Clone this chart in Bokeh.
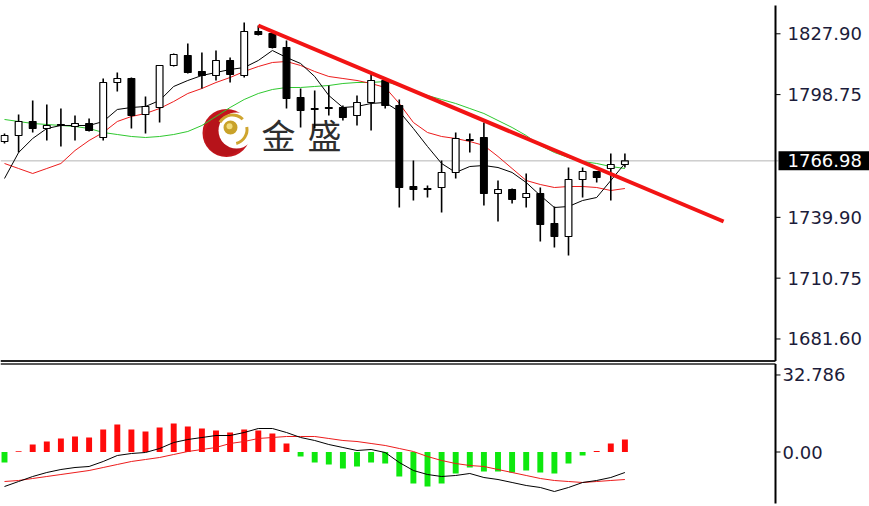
import numpy as np
from bokeh.plotting import figure
from bokeh.layouts import column
from bokeh.models import Range1d, ColumnDataSource
from bokeh.core.properties import value
from bokeh.embed import file_html
from bokeh.resources import INLINE

# ---- price candles (one per bar, oldest first) ----
opens = [1776.27, 1779.14, 1785.86, 1782.50, 1784.42, 1783.46, 1784.90, 1778.19, 1804.55, 1806.47,
         1789.21, 1792.57, 1812.70, 1817.50, 1809.83, 1807.91, 1815.10, 1807.91, 1829.00, 1828.04,
         1821.33, 1797.36, 1792.09, 1792.57, 1792.57, 1788.73, 1794.97, 1805.51, 1793.53, 1754.69,
         1753.73, 1754.21, 1761.41, 1777.23, 1778.19, 1751.34, 1753.25, 1749.42, 1751.34, 1736.95,
         1730.72, 1758.05, 1761.88, 1763.32, 1765.24]
highs = [1780.10, 1789.21, 1795.92, 1794.01, 1792.09, 1788.73, 1787.29, 1806.47, 1809.35, 1806.95,
         1797.84, 1812.70, 1818.46, 1823.25, 1818.94, 1819.89, 1816.54, 1833.32, 1831.88, 1828.52,
         1824.69, 1801.68, 1800.72, 1803.11, 1793.53, 1798.32, 1808.39, 1806.95, 1796.40, 1767.16,
         1755.17, 1767.16, 1780.58, 1780.10, 1785.38, 1757.57, 1753.73, 1760.93, 1754.21, 1745.10,
         1763.80, 1763.80, 1761.88, 1770.51, 1770.51]
lows = [1775.31, 1770.99, 1780.58, 1776.75, 1773.87, 1776.75, 1781.06, 1776.75, 1800.24, 1782.50,
        1780.10, 1785.38, 1812.22, 1808.87, 1801.68, 1805.51, 1804.55, 1806.95, 1827.08, 1820.85,
        1792.09, 1782.98, 1782.50, 1788.73, 1786.33, 1783.94, 1781.54, 1792.09, 1744.62, 1747.98,
        1749.42, 1742.22, 1758.53, 1770.99, 1745.58, 1737.91, 1746.54, 1744.62, 1728.32, 1725.44,
        1721.61, 1749.42, 1756.61, 1747.98, 1763.80]
closes = [1779.14, 1785.86, 1782.50, 1783.94, 1783.94, 1784.90, 1781.54, 1804.55, 1806.47, 1788.73,
          1793.05, 1812.70, 1817.98, 1809.35, 1807.91, 1815.10, 1808.39, 1829.00, 1827.56, 1821.33,
          1796.88, 1791.13, 1791.61, 1792.09, 1787.77, 1794.97, 1805.51, 1793.53, 1754.21, 1753.25,
          1753.25, 1761.41, 1777.71, 1776.75, 1751.34, 1753.25, 1748.46, 1751.34, 1736.47, 1730.72,
          1758.05, 1761.88, 1759.01, 1765.24, 1766.98]

# ---- moving averages ----
ma_fast = [1758.53, 1770.99, 1777.71, 1782.50, 1783.94, 1783.94, 1783.94, 1785.86, 1791.61, 1792.57,
           1793.05, 1795.92, 1802.64, 1805.51, 1807.91, 1809.35, 1810.78, 1811.74, 1815.10, 1819.89,
           1816.54, 1813.66, 1807.43, 1798.32, 1792.57, 1793.05, 1794.49, 1794.97, 1790.65, 1782.50,
           1773.87, 1765.72, 1761.41, 1764.28, 1764.76, 1763.80, 1761.41, 1756.61, 1750.38, 1744.62,
           1745.10, 1747.98, 1749.42, 1757.57, 1765.72]
ma_mid = [1765.72, 1763.32, 1760.93, 1763.32, 1765.72, 1771.95, 1776.75, 1780.58, 1785.86, 1788.25,
          1789.69, 1792.09, 1795.44, 1799.28, 1801.68, 1804.55, 1806.95, 1809.83, 1812.22, 1814.14,
          1814.62, 1812.70, 1809.83, 1807.43, 1806.47, 1805.51, 1804.07, 1802.16, 1794.49, 1785.38,
          1780.58, 1778.67, 1777.71, 1776.27, 1774.35, 1769.08, 1763.32, 1757.57, 1755.65, 1754.21,
          1754.69, 1754.69, 1754.21, 1752.78, 1753.73]
ma_slow = [1786.82, 1785.86, 1784.90, 1784.42, 1783.94, 1783.46, 1782.50, 1780.58, 1779.62, 1778.67,
           1778.19, 1778.67, 1779.62, 1781.06, 1783.94, 1788.25, 1792.57, 1796.40, 1799.28, 1801.20,
           1802.16, 1802.16, 1802.64, 1803.11, 1804.07, 1804.55, 1804.55, 1805.03, 1803.11, 1800.72,
           1798.32, 1796.40, 1794.49, 1792.09, 1789.69, 1786.33, 1782.98, 1779.14, 1774.35, 1770.99,
           1768.60, 1766.68, 1765.72, 1764.28, 1763.32]

# ---- oscillator panel ----
hist = [-4.47, 0.30, 3.19, 4.47, 5.75, 6.60, 6.17, 9.58, 11.71, 9.58,
        8.73, 10.43, 12.13, 10.86, 10.00, 9.15, 8.30, 9.58, 9.15, 7.88,
        3.62, -1.92, -4.47, -5.32, -7.02, -6.17, -4.47, -4.90, -10.43, -13.41,
        -14.69, -13.41, -9.15, -6.60, -8.30, -8.30, -8.73, -7.88, -8.73, -9.15,
        -4.90, -1.49, 0.43, 3.62, 5.32]
macd_line = [-14.69, -12.56, -10.43, -8.73, -7.45, -6.60, -6.17, -4.04, -1.49, -0.64,
             -0.21, 1.49, 4.04, 5.32, 6.17, 7.02, 7.02, 8.30, 10.00, 10.00,
             8.30, 6.17, 4.90, 3.19, 1.92, 0.64, 1.06, -0.21, -4.47, -7.88,
             -9.58, -10.43, -10.00, -9.15, -10.86, -11.71, -12.98, -14.26, -15.11, -16.82,
             -15.11, -12.98, -12.13, -10.86, -8.73]
signal_line = [-12.56, -12.13, -11.28, -10.43, -9.58, -8.73, -7.88, -6.60, -5.32, -4.04,
               -3.19, -2.34, -1.06, 0.21, 1.06, 1.92, 3.62, 4.47, 5.75, 6.17,
               6.60, 6.60, 6.60, 5.75, 4.90, 4.47, 3.62, 2.77, 1.49, 0.21,
               -1.92, -3.62, -4.90, -5.75, -6.17, -7.45, -8.73, -10.00, -11.28, -12.13,
               -12.56, -12.98, -12.56, -12.13, -11.71]

price_ticks = [1827.90, 1798.75, 1739.90, 1710.75, 1681.60]
price_tick_labels = ["1827.90", "1798.75", "1739.90", "1710.75", "1681.60"]
osc_ticks = [32.786, 0.0]
osc_tick_labels = ["32.786", "0.00"]
last_price = 1766.98

# resistance trend line (bar index, price)
trend_x = [18, 51]
trend_y = [1831.88, 1737.92]

FONT = "DejaVu Sans"
LABEL_COLOR = "#1c1c3a"
W = 869
BAR_PX = 14.1          # horizontal spacing of bars, in pixels
FIRST_BAR_PX = 4.0     # pixel column of bar 0


def xpx(px):
    """Horizontal canvas pixel -> bar-index coordinate."""
    return (px - FIRST_BAR_PX) / BAR_PX


AXIS_X = xpx(775)      # price-scale line
TICK_LEN = 5 / BAR_PX

idx = np.arange(len(opens))
o = np.array(opens); c = np.array(closes)
bull = c >= o
candles = ColumnDataSource(dict(
    x=idx, top=np.maximum(o, c), bottom=np.minimum(o, c),
    high=highs, low=lows,
    fill=["white" if b else "black" for b in bull],
))

x_range = Range1d(xpx(0), xpx(W))


def make_fig(height, y0, y1):
    f = figure(width=W, height=height, x_range=x_range, y_range=Range1d(y0, y1),
               x_axis_location=None, y_axis_location=None,
               toolbar_location=None, output_backend="svg",
               min_border_left=0, min_border_right=0, min_border_top=0, min_border_bottom=0)
    f.grid.visible = False
    f.outline_line_color = None
    f.background_fill_color = "white"
    f.border_fill_color = "white"
    return f


def price_scale(f, ticks, labels, y_lo, y_hi, label_px, width=2):
    """Right-hand value scale: vertical rule, outward ticks and tick labels."""
    f.segment([AXIS_X], [y_lo], [AXIS_X], [y_hi], line_color="black", line_width=width)
    f.segment([AXIS_X] * len(ticks), ticks, [AXIS_X + TICK_LEN] * len(ticks), ticks,
              line_color="black", line_width=1)
    f.text([xpx(label_px)] * len(ticks), ticks, text=labels,
           text_font=value(FONT), text_font_size="18px", text_color=LABEL_COLOR,
           text_align="left", text_baseline="middle")


# ---------------- price panel ----------------
p = make_fig(362, 1670.32, 1843.86)
p_unit = (1843.86 - 1670.32) / 362   # price per pixel

# logo watermark
logo_x, logo_y = xpx(226), 1780.34
p.scatter([logo_x], [logo_y], size=48, fill_color="#c3161d", line_color=None)
p.scatter([logo_x - 0.12], [logo_y - 1.2], size=40, fill_color="#9e0f16", line_color=None, fill_alpha=0.35)
p.scatter([xpx(236)], [1781.54], size=36, fill_color="white", line_color=None)
for a0, a1 in [(45, 150), (-75, 10)]:
    p.annular_wedge([xpx(232)], [1782.02], inner_radius=13, outer_radius=16,
                    start_angle=np.deg2rad(a0), end_angle=np.deg2rad(a1),
                    inner_radius_units="screen", outer_radius_units="screen",
                    fill_color="#cfa52f", line_color=None)
p.scatter([xpx(230)], [1782.98], size=14, fill_color="#c9a22a", line_color=None)
p.scatter([xpx(229)], [1783.6], size=6, fill_color="#f2dc7a", line_color=None)
p.text([xpx(278), xpx(324)], [1779.62, 1779.62], text=["金", "盛"],
       text_font=value("Noto Sans CJK SC"), text_font_size="34px",
       text_color="#2e2e2e", text_align="center", text_baseline="middle")

# last price line
p.segment([xpx(0)], [last_price], [xpx(778)], [last_price], line_color="#b4b4b4", line_width=1)

# moving averages
p.line(idx, ma_slow, line_color="#2fc82f", line_width=1)
p.line(idx, ma_mid, line_color="#ec1c1c", line_width=1)
p.line(idx, ma_fast, line_color="black", line_width=1)

# candles
p.segment(x0="x", y0="low", x1="x", y1="high", source=candles, line_color="black", line_width=1.6)
p.vbar(x="x", width=0.48, top="top", bottom="bottom", source=candles,
       fill_color="fill", line_color="black", line_width=1.2)

# trend line
p.line(trend_x, trend_y, line_color="#f21414", line_width=4)

# panel bottom rule and price scale
sep_y = 1843.86 - 360.5 * p_unit
p.segment([xpx(0)], [sep_y], [AXIS_X], [sep_y], line_color="#222222", line_width=2)
price_scale(p, price_ticks, price_tick_labels, sep_y, 1843.86 - 5 * p_unit, 787)

# last price tag
p.quad(left=[xpx(778)], right=[xpx(W + 2)], bottom=[last_price - 9.5 * p_unit],
       top=[last_price + 9.5 * p_unit], fill_color="black", line_color=None)
p.text([xpx(787)], [last_price], text=[f"{last_price:.2f}"],
       text_font=value(FONT), text_font_size="18px", text_color="white",
       text_align="left", text_baseline="middle")

# ---------------- oscillator panel ----------------
q = make_fig(144, -23.20, 38.10)
q_unit = (38.10 + 23.20) / 144

h = np.array(hist)
q.vbar(x=idx, width=0.42, top=np.maximum(h, 0), bottom=np.minimum(h, 0),
       fill_color=["#ff0a0a" if v >= 0 else "#0ee80e" for v in h], line_color=None)
q.line(idx, signal_line, line_color="#ec1c1c", line_width=1)
q.line(idx, macd_line, line_color="black", line_width=1)

top_y = 38.10 - 1.5 * q_unit
q.segment([xpx(0)], [top_y], [AXIS_X], [top_y], line_color="#222222", line_width=1.5)
price_scale(q, osc_ticks, osc_tick_labels, 38.10 - 141 * q_unit, top_y, 782)

layout = column(p, q, spacing=0)
open("out.html", "w").write(file_html(layout, INLINE))
